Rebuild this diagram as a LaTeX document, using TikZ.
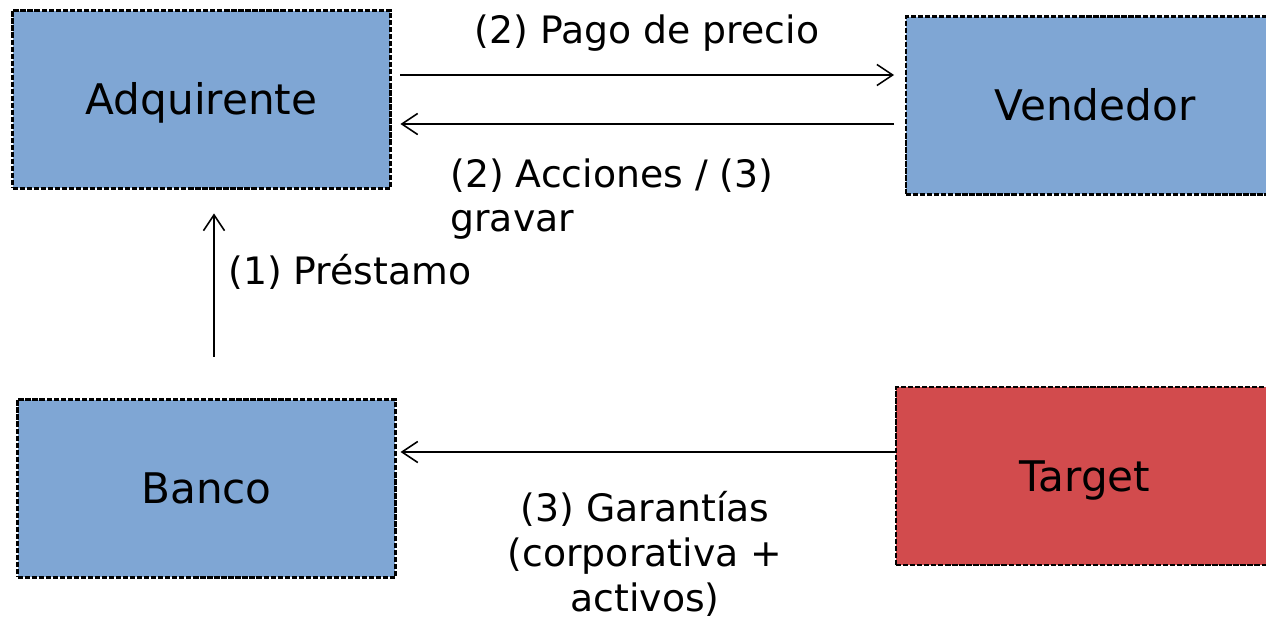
\documentclass[tikz,border=0pt]{standalone}
\usepackage{fontspec}
\setmainfont{DejaVu Sans}
\usepackage{tikz}
\usetikzlibrary{positioning,calc,arrows.meta}
\definecolor{boxblue}{RGB}{127,166,212}
\definecolor{boxred}{RGB}{210,75,77}

\begin{document}
\begin{tikzpicture}[x=0.02cm,y=-0.02cm,
  party/.style={draw,dash pattern=on 3pt off 1pt,line width=1.2pt,fill=boxblue,
    minimum width=7.56cm,minimum height=3.56cm,inner sep=0pt,
    text height=17.5pt,text depth=0pt,font=\fontsize{24}{28}\selectfont},
  flow/.style={-{Straight Barb[length=9pt,width=12pt]},line width=0.9pt},
  lbl/.style={inner sep=0pt,font=\fontsize{21.5}{25.5}\selectfont}]

\clip (0,0) rectangle (1266,619);

\node[party] (adq) at (201.5,99.5) {Adquirente};
\node[party,minimum width=8.44cm] (ven) at (1117,105.5) {Vendedor\hspace*{0.88cm}};
\node[party] (ban) at (206.5,488.5) {Banco};
\node[party,fill=boxred,minimum width=8.44cm] (tar) at (1107,476) {Target\hspace*{0.88cm}};

\draw[flow,shorten <=5.1pt,shorten >=6.2pt] ($(adq.east)+(0,-24.5)$) -- ($(ven.west)+(0,-30.5)$);
\draw[flow,shorten <=6.2pt,shorten >=5.1pt] ($(ven.west)+(0,18.5)$) -- ($(adq.east)+(0,24.5)$);
\draw[flow,shorten <=23.8pt,shorten >=13.6pt] ($(ban.north)+(7.5,0)$) -- ($(adq.south)+(12.5,0)$);
\draw[flow,shorten >=2.3pt] ($(tar.west)+(0,-24)$) -- ($(ban.east)+(0,-36.5)$);

\node[lbl] (pago) at (647,33) {(2) Pago de precio};
\node[lbl,anchor=west,align=left] (acc) at (450,199) {(2) Acciones / (3)\\gravar};
\node[lbl,anchor=west] (pres) at (228,272) {(1) Préstamo};
\node[lbl,align=center] (gar) at (645,554) {(3) Garantías\\(corporativa +\\activos)};
\end{tikzpicture}
\end{document}
